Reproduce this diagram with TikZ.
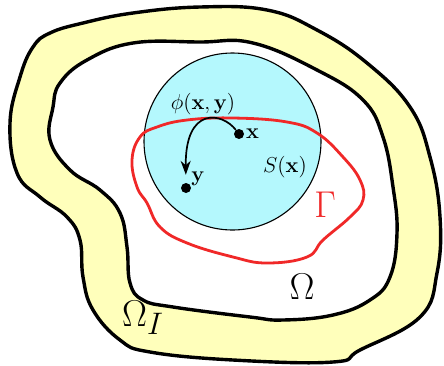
\documentclass[tikz,border=0pt]{standalone}
\usepackage{amsmath}
\usepackage{tikz}
\usetikzlibrary{arrows.meta}
\definecolor{layer}{HTML}{FFFFBB}
\definecolor{horizon}{HTML}{B4F8FD}
\definecolor{gamma}{HTML}{F02828}
\tikzset{
  boundary/.style={line width=3.4pt, line join=round, draw=black},
  ball/.style={circle, draw=black, line width=1.1pt, fill=horizon, minimum size=177pt, inner sep=0pt},
  crack/.style={line width=2.8pt, draw=gamma, line join=round},
  point/.style={circle, fill=black, inner sep=0pt, minimum size=10pt},
  bond/.style={line width=1.7pt, -{Stealth[length=14pt,width=10pt]}, shorten >=8pt},
  tag/.style={font=\Large, scale=1.5, inner sep=1pt},
  region/.style={font=\Huge, scale=1.5, inner sep=0pt}
}
\begin{document}
\begin{tikzpicture}[x=1pt,y=-1pt]
\useasboundingbox (0,0) rectangle (444,365);

% outer boundary of the interaction layer
\filldraw[boundary, fill=layer] plot[smooth cycle, tension=0.7] coordinates {
  (50,33) (33,47) (20,77) (10,123) (17,173) (40,197) (67,217) (80,240)
  (83,277) (93,310) (120,340) (150,352) (233,360) (333,362) (360,350)
  (420,317) (437,273) (440,217) (430,157) (410,107) (367,63) (317,30)
  (267,10) (200,7) (133,13) (83,23)};
% boundary of the domain
\filldraw[boundary, fill=white] plot[smooth cycle, tension=0.7] coordinates {
  (60,83) (53,107) (50,140) (70,170) (100,190) (120,213) (127,247)
  (130,283) (143,300) (173,307) (250,317) (283,320) (333,315) (370,300)
  (390,277) (397,233) (393,187) (383,137) (363,100) (317,70) (253,43)
  (200,42) (133,43) (87,60)};

% horizon ball
\node[ball] (ball) at (232.5,141.5) {};

% crack
\draw[crack] plot[smooth cycle, tension=0.7] coordinates {
  (140,137) (132,160) (137,187) (147,203) (160,227) (187,243) (233,257)
  (267,263) (307,257) (323,240) (350,217) (363,200) (360,180) (343,157)
  (317,133) (287,122) (233,118) (187,120) (157,127)};

\node[point] (x) at (239,134) {};
\node[point] (y) at (186,188) {};
\draw[bond] (x) .. controls (222,112) and (185,106) .. (y);

\node[tag, anchor=west] (xlab) at (x.east) {$\mathbf{x}$};
\node[tag, anchor=south west] (ylab) at ([yshift=-3pt]y.north east) {$\mathbf{y}$};
\node[tag] (phi) at (203,104) {$\phi(\mathbf{x},\mathbf{y})$};
\node[tag] (slab) at (285,167) {$S(\mathbf{x})$};
\node[region, text=gamma] (glab) at (325,205) {$\Gamma$};
\node[region] (olab) at (302,287) {$\Omega$};
\node[region] (oilab) at (143,318) {$\Omega_I$};
\end{tikzpicture}
\end{document}
